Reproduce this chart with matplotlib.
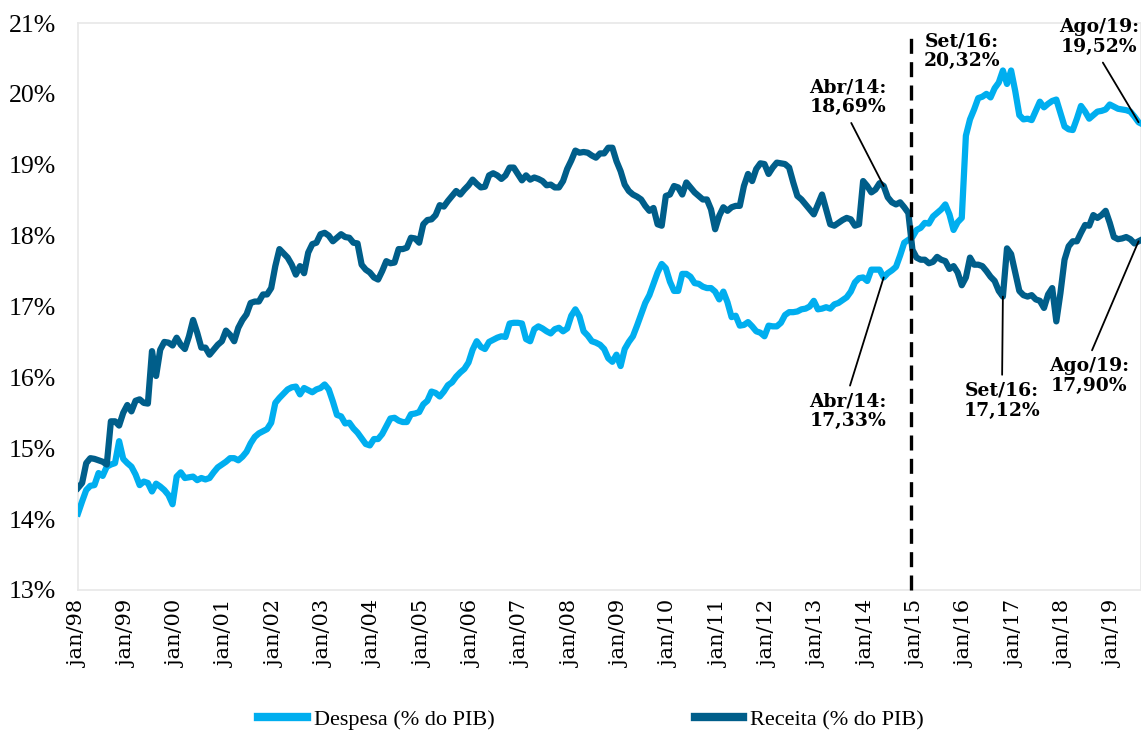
import numpy as np
import matplotlib
matplotlib.use("Agg")
import matplotlib.pyplot as plt
from matplotlib.lines import Line2D

# monthly values, jan/98 .. ago/19 (% do PIB)
despesa = [
    14.08, 14.25, 14.41, 14.47, 14.48, 14.65, 14.61, 14.74, 14.77, 14.79, 15.10, 14.85,  # 1998
    14.79, 14.74, 14.63, 14.48, 14.53, 14.51, 14.39, 14.50, 14.46, 14.41, 14.34, 14.21,  # 1999
    14.60, 14.66, 14.58, 14.59, 14.60, 14.55, 14.58, 14.56, 14.58, 14.66, 14.73, 14.77,  # 2000
    14.81, 14.86, 14.86, 14.83, 14.88, 14.95, 15.07, 15.16, 15.21, 15.24, 15.27, 15.36,  # 2001
    15.64, 15.71, 15.77, 15.83, 15.86, 15.87, 15.76, 15.85, 15.82, 15.79, 15.83, 15.85,  # 2002
    15.90, 15.83, 15.66, 15.47, 15.45, 15.35, 15.36, 15.28, 15.22, 15.14, 15.06, 15.04,  # 2003
    15.13, 15.13, 15.20, 15.31, 15.42, 15.43, 15.39, 15.37, 15.37, 15.48, 15.49, 15.51,  # 2004
    15.62, 15.67, 15.80, 15.78, 15.73, 15.80, 15.89, 15.93, 16.01, 16.07, 16.12, 16.21,  # 2005
    16.39, 16.51, 16.43, 16.40, 16.50, 16.53, 16.56, 16.58, 16.57, 16.76, 16.77, 16.77,  # 2006
    16.76, 16.54, 16.51, 16.68, 16.72, 16.69, 16.65, 16.62, 16.68, 16.70, 16.65, 16.69,  # 2007
    16.87, 16.96, 16.86, 16.65, 16.59, 16.51, 16.49, 16.46, 16.40, 16.27, 16.22, 16.32,  # 2008
    16.16, 16.40, 16.50, 16.58, 16.73, 16.89, 17.05, 17.16, 17.32, 17.48, 17.60, 17.54,  # 2009
    17.35, 17.22, 17.22, 17.46, 17.46, 17.42, 17.33, 17.32, 17.28, 17.26, 17.26, 17.21,  # 2010
    17.10, 17.21, 17.06, 16.85, 16.87, 16.73, 16.74, 16.78, 16.72, 16.65, 16.63, 16.58,  # 2011
    16.73, 16.72, 16.72, 16.77, 16.88, 16.92, 16.92, 16.93, 16.96, 16.97, 17.00, 17.08,  # 2012
    16.96, 16.97, 16.99, 16.97, 17.03, 17.05, 17.09, 17.13, 17.21, 17.34, 17.40, 17.41,  # 2013
    17.36, 17.52, 17.52, 17.52, 17.41, 17.47, 17.51, 17.56, 17.72, 17.90, 17.94, 17.98,  # 2014
    18.08, 18.11, 18.18, 18.17, 18.27, 18.32, 18.37, 18.44, 18.30, 18.08, 18.19, 18.25,  # 2015
    19.41, 19.64, 19.78, 19.94, 19.96, 20.00, 19.95, 20.08, 20.16, 20.33, 20.14, 20.33,  # 2016
    20.04, 19.70, 19.64, 19.65, 19.63, 19.76, 19.89, 19.81, 19.86, 19.90, 19.92, 19.73,  # 2017
    19.54, 19.50, 19.49, 19.65, 19.83, 19.75, 19.65, 19.70, 19.75, 19.76, 19.78, 19.85,  # 2018
    19.82, 19.79, 19.78, 19.77, 19.75, 19.68, 19.60, 19.57,                              # 2019
]
receita = [
    14.44, 14.51, 14.79, 14.86, 14.85, 14.83, 14.81, 14.77, 15.38, 15.38, 15.32, 15.50,
    15.61, 15.52, 15.67, 15.69, 15.64, 15.63, 16.37, 16.02, 16.39, 16.50, 16.49, 16.45,
    16.56, 16.46, 16.40, 16.58, 16.81, 16.63, 16.42, 16.42, 16.32, 16.39, 16.46, 16.51,
    16.66, 16.60, 16.51, 16.70, 16.81, 16.89, 17.05, 17.07, 17.07, 17.17, 17.17, 17.26,
    17.57, 17.81, 17.75, 17.69, 17.59, 17.45, 17.57, 17.47, 17.76, 17.88, 17.90, 18.02,
    18.04, 18.00, 17.92, 17.97, 18.02, 17.98, 17.97, 17.90, 17.89, 17.59, 17.52, 17.48,
    17.41, 17.38, 17.50, 17.64, 17.61, 17.62, 17.81, 17.81, 17.83, 17.97, 17.96, 17.90,
    18.16, 18.22, 18.23, 18.29, 18.43, 18.41, 18.49, 18.56, 18.63, 18.58, 18.65, 18.71,
    18.79, 18.73, 18.68, 18.69, 18.85, 18.88, 18.85, 18.80, 18.85, 18.96, 18.96, 18.87,
    18.78, 18.85, 18.79, 18.82, 18.80, 18.77, 18.71, 18.72, 18.68, 18.68, 18.77, 18.94,
    19.06, 19.20, 19.17, 19.18, 19.17, 19.13, 19.10, 19.16, 19.16, 19.24, 19.24, 19.05,
    18.91, 18.72, 18.63, 18.58, 18.55, 18.51, 18.42, 18.35, 18.39, 18.16, 18.14, 18.56,
    18.58, 18.70, 18.68, 18.58, 18.75, 18.68, 18.61, 18.56, 18.51, 18.51, 18.37, 18.09,
    18.28, 18.40, 18.35, 18.40, 18.42, 18.42, 18.70, 18.87, 18.77, 18.94, 19.02, 19.01,
    18.87, 18.96, 19.03, 19.02, 19.01, 18.96, 18.75, 18.56, 18.51, 18.44, 18.37, 18.30,
    18.44, 18.58, 18.37, 18.16, 18.14, 18.18, 18.22, 18.25, 18.23, 18.14, 18.16, 18.77,
    18.70, 18.61, 18.65, 18.74, 18.70, 18.54, 18.47, 18.44, 18.47, 18.40, 18.32, 17.80,
    17.69, 17.66, 17.66, 17.61, 17.63, 17.70, 17.66, 17.64, 17.53, 17.57, 17.48, 17.30,
    17.41, 17.69, 17.59, 17.59, 17.57, 17.50, 17.42, 17.36, 17.22, 17.14, 17.82, 17.74,
    17.48, 17.22, 17.16, 17.14, 17.16, 17.10, 17.08, 16.98, 17.17, 17.26, 16.79, 17.19,
    17.66, 17.85, 17.92, 17.92, 18.04, 18.15, 18.14, 18.29, 18.25, 18.29, 18.35, 18.18,
    17.98, 17.95, 17.96, 17.98, 17.95, 17.89, 17.92, 17.95,
]
anos = ['98', '99', '00', '01', '02', '03', '04', '05', '06', '07', '08',
        '09', '10', '11', '12', '13', '14', '15', '16', '17', '18', '19']
tick_labels = ['jan/' + a for a in anos]

# annotations: (text, series, month index, text x, text y, line from top or bottom)
notas = [
    ('Abr/14:\n18,69%', 'r', 196, 187.3, 19.95, 0),
    ('Abr/14:\n17,33%', 'd', 196, 187.3, 15.52, 1),
    ('Set/16:\n17,12%', 'r', 225, 224.8, 15.67, 1),
    ('Ago/19:\n19,52%', 'd', 258, 248.4, 20.80, 0),
    ('Ago/19:\n17,90%', 'r', 258, 246.0, 16.02, 1),
]
set16_txt = ('Set/16:\n20,32%', 215.1, 20.60)
vline_month = 202.6

cor_desp = '#00AEEF'
cor_rec = '#005E8A'

W, H = 1141, 733
fig = plt.figure(figsize=(W / 100, H / 100), dpi=100)
ax = fig.add_axes([78 / W, 1 - 590 / H, 1 - 78 / W, (590 - 23) / H])

x = np.arange(len(despesa))
ax.plot(x, despesa, color=cor_desp, lw=4.5, solid_joinstyle='round', zorder=3)
ax.plot(x, receita, color=cor_rec, lw=4.5, solid_joinstyle='round', zorder=3)

ax.plot([vline_month, vline_month], [13, 20.85], color='black', lw=2.4,
        dashes=(4.5, 2.5), zorder=4, clip_on=False)

ax.set_xlim(0, 258.6)
ax.set_ylim(13, 21)
ax.set_yticks(range(13, 22))
ax.set_yticklabels([f'{v}%' for v in range(13, 22)], family='Liberation Serif', fontsize=18.5)
ax.set_xticks(range(0, len(despesa), 12))
ax.set_xticklabels(tick_labels, rotation=90, family='DejaVu Serif', fontsize=15)
ax.tick_params(axis='y', length=0, pad=16)
ax.tick_params(axis='x', length=0, pad=8)
for s in ax.spines.values():
    s.set_color('#E8E8E8')
    s.set_linewidth(1.2)

serie = {'d': despesa, 'r': receita}
for txt, k, m, tx, ty, cima in notas:
    ax.annotate(txt, xy=(m, serie[k][m]), xytext=(tx, ty), ha='center', va='center',
                family='DejaVu Serif', fontweight='bold', fontsize=13.5, linespacing=1.15,
                annotation_clip=False, zorder=5,
                arrowprops=dict(arrowstyle='-', color='black', lw=1.3,
                                relpos=(0.5, cima), shrinkA=3, shrinkB=0))
ax.text(set16_txt[1], set16_txt[2], set16_txt[0], ha='center', va='center',
        family='DejaVu Serif', fontweight='bold', fontsize=13.5, linespacing=1.15, zorder=5)

handles = [Line2D([], [], color=cor_desp, lw=6), Line2D([], [], color=cor_rec, lw=6)]
fig.legend(handles, ['Despesa (% do PIB)', 'Receita (% do PIB)'], loc='center',
           bbox_to_anchor=(591 / W, 1 - 720 / H), ncol=2, frameon=False,
           handlelength=2.2, handletextpad=0.3, columnspacing=9,
           prop={'family': 'Liberation Serif', 'size': 16})

fig.savefig('out.png', dpi=100)
